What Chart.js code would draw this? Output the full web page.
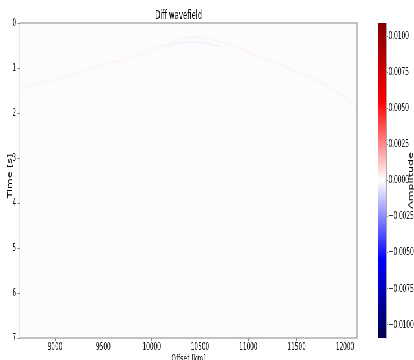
<!DOCTYPE html>
<html>
<head>
<meta charset="utf-8">
<script src="https://cdn.jsdelivr.net/npm/chart.js@4.4.1/dist/chart.umd.min.js"></script>
<style>
  html, body { margin: 0; padding: 0; background: #fff; }
  #frame { position: relative; width: 414px; height: 360px; overflow: hidden; }
  /* the figure was squeezed sideways, so draw wide and squeeze it */
  #wide { position: absolute; left: 0; top: 0; width: 753px; height: 366px; transform: scaleX(0.55); transform-origin: 0 0; }
  #mainChart { position: absolute; left: 0; top: 0; }
  #barChart { position: absolute; left: 680px; top: 0; }
</style>
</head>
<body>
<div id="frame">
  <div id="wide">
    <canvas id="mainChart" width="660" height="366"></canvas>
    <canvas id="barChart" width="73" height="366"></canvas>
  </div>
</div>
<script>
// Achsen-Ticks
const offsetTicks = [9000, 9500, 10000, 10500, 11000, 11500, 12000];
const timeTicks = [0, 1, 2, 3, 4, 5, 6, 7];
const ampTicks = [-0.01, -0.0075, -0.005, -0.0025, 0, 0.0025, 0.005, 0.0075, 0.01];
const offsetRange = [8638, 12124];
const timeRange = [0, 7];
const ampRange = [-0.0109, 0.0109];

// schwacher Rest der Hyperbel
const redOffset = [8638, 9517, 9983, 10250, 10417, 10600, 10810, 11255, 11741, 12124];
const redTime   = [1.47, 0.93, 0.60, 0.40, 0.31, 0.36, 0.49, 0.87, 1.31, 1.82];
const blueOffset = [10150, 10300, 10420, 10540, 10700];
const blueTime   = [0.52, 0.44, 0.41, 0.44, 0.52];

const TICK_FONT = { family: 'DejaVu Sans', size: 10.5 };
const LABEL_FONT = { family: 'DejaVu Sans', size: 11 };

const toPoints = (xs, ys) => xs.map((x, i) => ({ x: x, y: ys[i] }));

// gedrehter Achsentitel, selbst gezeichnet
function drawVerticalLabel(ctx, text, x, y) {
    ctx.save();
    ctx.translate(x, y);
    ctx.rotate(-Math.PI / 2);
    ctx.font = '11px "DejaVu Sans"';
    ctx.fillStyle = '#000';
    ctx.textAlign = 'center';
    ctx.textBaseline = 'middle';
    ctx.fillText(text, 0, 0);
    ctx.restore();
}

const framePlugin = {
    id: 'frame',
    beforeDatasetsDraw(chart) {
        const a = chart.chartArea, ctx = chart.ctx;
        ctx.save();
        ctx.fillStyle = '#fdfcfd';
        ctx.fillRect(a.left, a.top, a.right - a.left, a.bottom - a.top);
        ctx.restore();
    },
    afterDraw(chart) {
        const a = chart.chartArea, ctx = chart.ctx;
        ctx.save();
        ctx.strokeStyle = '#999';
        ctx.lineWidth = 1.2;
        ctx.strokeRect(a.left, a.top, a.right - a.left, a.bottom - a.top);
        ctx.restore();
        drawVerticalLabel(ctx, 'Time [s]', 18, 176);
    }
};

new Chart(document.getElementById('mainChart'), {
    type: 'line',
    data: {
        datasets: [
            { data: toPoints(redOffset, redTime), borderColor: 'rgba(255,110,90,0.05)', borderWidth: 2, tension: 0.4 },
            { data: toPoints(blueOffset, blueTime), borderColor: 'rgba(70,100,255,0.06)', borderWidth: 2, tension: 0.4 }
        ]
    },
    options: {
        responsive: false,
        animation: false,
        events: [],
        elements: { point: { radius: 0 } },
        layout: { padding: { left: 0, right: 11, top: 0, bottom: 0 } },
        plugins: {
            legend: { display: false },
            tooltip: { enabled: false },
            title: {
                display: true,
                text: 'Diff wavefield',
                color: '#000',
                font: { family: 'DejaVu Sans', size: 12.5, weight: 'normal', lineHeight: 1.2 },
                padding: { top: 8, bottom: 0 }
            }
        },
        scales: {
            x: {
                type: 'linear',
                min: offsetRange[0],
                max: offsetRange[1],
                afterBuildTicks: s => { s.ticks = offsetTicks.map(v => ({ value: v })); },
                afterFit: s => { s.height = 28; },
                ticks: { color: '#111', font: TICK_FONT, padding: 0, maxRotation: 0, callback: v => String(v) },
                grid: { display: true, drawOnChartArea: false, tickLength: 3, color: '#888' },
                border: { display: false },
                title: { display: true, text: 'Offset [km]', color: '#000', font: LABEL_FONT, padding: { top: 3, bottom: 0 } }
            },
            y: {
                type: 'linear',
                reverse: true,
                min: timeRange[0],
                max: timeRange[1],
                afterBuildTicks: s => { s.ticks = timeTicks.map(v => ({ value: v })); },
                afterFit: s => { s.width = 36.4; },
                ticks: { color: '#111', font: TICK_FONT, padding: 2, callback: v => String(v) },
                grid: { display: true, drawOnChartArea: false, tickLength: 5, color: '#888' },
                border: { display: false },
                title: { display: false }
            }
        }
    },
    plugins: [framePlugin]
});

// Farbskala (seismic)
const ampLabelPlugin = {
    id: 'ampLabel',
    afterDraw(chart) {
        drawVerticalLabel(chart.ctx, 'Amplitude', 67.3, 180.5);
    }
};

function seismicFill(context) {
    const area = context.chart.chartArea;
    if (!area) return '#fff';
    const g = context.chart.ctx.createLinearGradient(0, area.bottom, 0, area.top);
    g.addColorStop(0, '#00004d');
    g.addColorStop(0.25, '#0000ff');
    g.addColorStop(0.5, '#ffffff');
    g.addColorStop(0.75, '#ff0000');
    g.addColorStop(1, '#800000');
    return g;
}

new Chart(document.getElementById('barChart'), {
    type: 'bar',
    data: {
        labels: ['Amplitude'],
        datasets: [{ data: [ampRange], backgroundColor: seismicFill, borderWidth: 0, barPercentage: 1, categoryPercentage: 1 }]
    },
    options: {
        responsive: false,
        animation: false,
        events: [],
        layout: { padding: { left: 7, right: 0, top: 23, bottom: 28 } },
        plugins: { legend: { display: false }, tooltip: { enabled: false } },
        scales: {
            x: { display: false },
            y: {
                position: 'right',
                min: ampRange[0],
                max: ampRange[1],
                afterBuildTicks: s => { s.ticks = ampTicks.map(v => ({ value: v })); },
                afterFit: s => { s.width = 51; },
                ticks: {
                    color: '#111', font: TICK_FONT, padding: 1,
                    callback: v => (v < 0 ? '\u2212' : '') + Math.abs(v).toFixed(4)
                },
                grid: { display: true, drawOnChartArea: false, tickLength: 3.6, color: '#888' },
                border: { display: true, color: '#aaa' }
            }
        }
    },
    plugins: [ampLabelPlugin]
});
</script>
</body>
</html>
